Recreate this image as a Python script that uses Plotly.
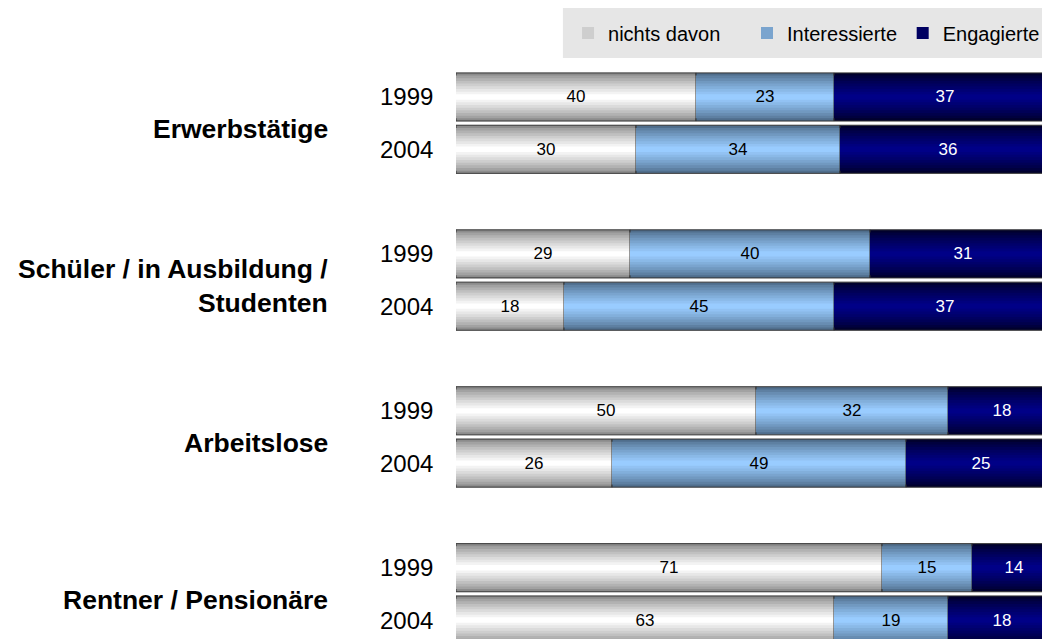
import plotly.graph_objects as go

groups = ["Erwerbstätige", "Schüler / in Ausbildung /<br>Studenten", "Arbeitslose", "Rentner / Pensionäre"]
years = ["1999", "2004"]
series_names = ["nichts davon", "Interessierte", "Engagierte"]
nichts = [40, 30, 29, 18, 50, 26, 71, 63]
interessierte = [23, 34, 40, 45, 32, 49, 15, 19]
engagierte = [37, 36, 31, 37, 18, 25, 14, 18]

series_vals = [nichts, interessierte, engagierte]
edge_cols = [(140, 140, 140), (80, 110, 140), (0, 0, 45)]
center_cols = [(255, 255, 255), (153, 204, 255), (0, 0, 135)]
text_cols = ["black", "black", "white"]
FONT = "Arial, Liberation Sans, sans-serif"
legend_ids = ["legend", "legend2", "legend3"]
legend_x = [0.1886, 0.4899, 0.752]

# row positions: pairs with a blank slot between groups
ypos = []
for g in range(len(groups)):
    ypos += [g * 3, g * 3 + 1]

W = 0.92
NB = 9

fig = go.Figure()
base = [0] * len(ypos)
for si, vals in enumerate(series_vals):
    for k in range(NB):
        t = (k / (NB - 1)) ** 0.8
        c = tuple(int(round(edge_cols[si][j] + (center_cols[si][j] - edge_cols[si][j]) * t)) for j in range(3))
        w = W * (1 - k / NB)
        fig.add_trace(go.Bar(
            y=ypos, x=vals, base=base, orientation="h", width=w,
            marker=dict(color="rgb(%d,%d,%d)" % c,
                        line=dict(color="#333333", width=1 if k == 0 else 0)),
            name=series_names[si], legendgroup=series_names[si], legend=legend_ids[si],
            showlegend=(k == NB // 2), hoverinfo="skip",
        ))
    fig.add_trace(go.Bar(
        y=ypos, x=vals, base=base, orientation="h", width=W,
        marker=dict(color="rgba(0,0,0,0)", line=dict(width=0)),
        text=[str(v) for v in vals], textposition="inside", insidetextanchor="middle",
        textangle=0, constraintext="none",
        textfont=dict(family=FONT, size=17, color=text_cols[si]),
        showlegend=False, legendgroup=series_names[si], name=series_names[si], legend=legend_ids[si],
    ))
    base = [b + v for b, v in zip(base, vals)]

annotations = []
for i, y in enumerate(ypos):
    annotations.append(dict(x=-0.036, xref="paper", y=y, yref="y", text=years[i % 2],
                            xanchor="right", yanchor="middle", showarrow=False,
                            font=dict(family=FONT, size=24, color="black")))
for g, name in enumerate(groups):
    annotations.append(dict(x=-0.212, xref="paper", y=g * 3 + 0.5, yref="y", text="<b>%s</b>" % name,
                            xanchor="right", yanchor="middle", align="right", showarrow=False, yshift=-6,
                            font=dict(family=FONT, size=26.5, color="black")))

legend_style = dict(orientation="h", xanchor="left", y=1.0466, yanchor="middle",
                    bgcolor="rgba(0,0,0,0)", font=dict(family=FONT, size=20, color="black"),
                    itemsizing="constant")

fig.update_layout(
    width=1042, height=631,
    margin=dict(l=448, r=0, t=52, b=0),
    barmode="overlay",
    plot_bgcolor="white", paper_bgcolor="white",
    xaxis=dict(range=[0, 99], showgrid=False, showticklabels=False, zeroline=False, showline=False),
    yaxis=dict(range=[10.363, -0.707], showgrid=False, showticklabels=False, zeroline=False, showline=False),
    showlegend=True,
    legend=dict(x=legend_x[0], **legend_style),
    legend2=dict(x=legend_x[1], **legend_style),
    legend3=dict(x=legend_x[2], **legend_style),
    annotations=annotations,
    shapes=[dict(type="rect", xref="paper", yref="paper", x0=0.18, x1=1.0, y0=1.0035, y1=1.095,
                 fillcolor="#e6e6e6", line=dict(width=0), layer="below")],
)

fig.write_html("out.html")
